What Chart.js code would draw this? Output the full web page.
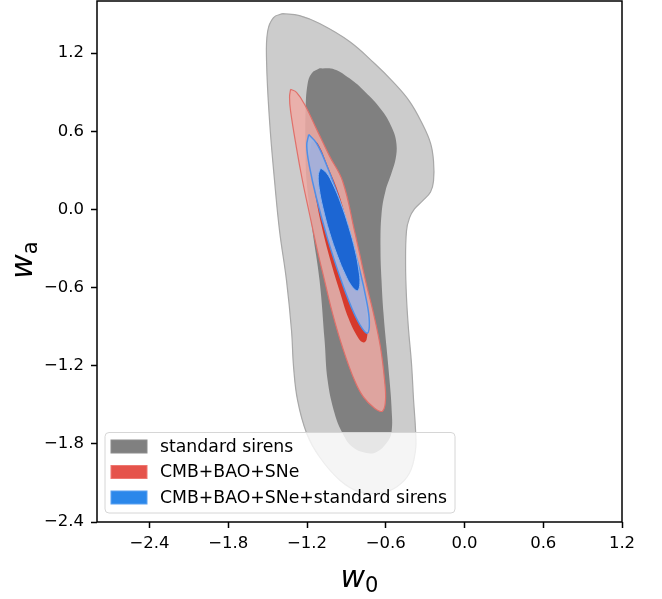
<!DOCTYPE html>
<html>
<head>
<meta charset="utf-8">
<script src="https://cdn.jsdelivr.net/npm/chart.js@4.4.1/dist/chart.umd.min.js"></script>
<style>
  html, body { margin: 0; padding: 0; background: #ffffff; }
  #wrap { width: 662px; height: 599px; position: relative; }
</style>
</head>
<body>
<div id="wrap"><canvas id="contourChart" width="662" height="599"></canvas></div>
<script>
// Axis ticks
const xTicks = [-2.4, -1.8, -1.2, -0.6, 0.0, 0.6, 1.2];
const yTicks = [-2.4, -1.8, -1.2, -0.6, 0.0, 0.6, 1.2];

// Legend labels
const legendLabels = ['standard sirens', 'CMB+BAO+SNe', 'CMB+BAO+SNe+standard sirens'];

// Standard sirens, 95% contour (w0, wa)
const sirens95W0 = [-1.386, -1.257, -1.104, -0.876, -0.685, -0.548, -0.419, -0.320, -0.259, -0.236, -0.236, -0.259, -0.320, -0.381, -0.419, -0.442, -0.449, -0.442, -0.426, -0.404, -0.388, -0.373, -0.373, -0.419, -0.518, -0.647, -0.800, -0.952, -1.104, -1.203, -1.272, -1.302, -1.318, -1.356, -1.409, -1.447, -1.485, -1.508, -1.500, -1.455, -1.386];
const sirens95Wa = [1.503, 1.488, 1.427, 1.289, 1.120, 0.983, 0.830, 0.654, 0.509, 0.371, 0.218, 0.134, 0.065, 0.004, -0.065, -0.165, -0.417, -0.677, -0.929, -1.182, -1.465, -1.695, -1.848, -2.024, -2.131, -2.177, -2.169, -2.077, -1.901, -1.718, -1.465, -1.213, -0.930, -0.547, -0.165, 0.218, 0.677, 1.136, 1.366, 1.473, 1.503];

// Standard sirens, 68% contour
const sirens68W0 = [-1.104, -0.990, -0.876, -0.762, -0.625, -0.548, -0.518, -0.525, -0.556, -0.602, -0.632, -0.640, -0.632, -0.617, -0.594, -0.571, -0.556, -0.556, -0.594, -0.670, -0.746, -0.853, -0.929, -0.990, -1.043, -1.066, -1.104, -1.158, -1.203, -1.211, -1.211, -1.196, -1.165, -1.104];
const sirens68Wa = [1.083, 1.075, 1.006, 0.907, 0.754, 0.616, 0.501, 0.386, 0.279, 0.142, -0.034, -0.295, -0.547, -0.799, -1.059, -1.312, -1.519, -1.710, -1.794, -1.863, -1.871, -1.825, -1.718, -1.565, -1.312, -1.006, -0.547, -0.165, 0.218, 0.447, 0.754, 0.960, 1.044, 1.083];

// CMB+BAO+SNe, 95% contour
const cmb95W0 = [-1.325, -1.280, -1.219, -1.120, -1.028, -0.929, -0.838, -0.754, -0.693, -0.640, -0.609, -0.602, -0.625, -0.685, -0.769, -0.838, -0.929, -1.005, -1.066, -1.120, -1.181, -1.234, -1.280, -1.325, -1.333, -1.325];
const cmb95Wa = [0.922, 0.899, 0.807, 0.601, 0.409, 0.218, -0.164, -0.547, -0.800, -1.060, -1.312, -1.465, -1.549, -1.526, -1.442, -1.312, -1.060, -0.800, -0.547, -0.318, -0.034, 0.218, 0.471, 0.754, 0.861, 0.922];

// CMB+BAO+SNe, 68% contour
const cmb68W0 = [-1.165, -1.120, -1.043, -0.952, -0.876, -0.800, -0.754, -0.739, -0.746, -0.769, -0.807, -0.883, -0.952, -1.021, -1.089, -1.142, -1.181, -1.165];
const cmb68Wa = [0.524, 0.509, 0.333, 0.103, -0.180, -0.471, -0.738, -0.891, -0.998, -1.021, -0.991, -0.838, -0.624, -0.394, -0.126, 0.142, 0.371, 0.524];

// CMB+BAO+SNe+standard sirens, 95% contour
const joint95W0 = [-1.187, -1.129, -1.060, -0.976, -0.880, -0.797, -0.746, -0.725, -0.740, -0.798, -0.867, -0.950, -1.047, -1.130, -1.181, -1.202, -1.187];
const joint95Wa = [0.575, 0.510, 0.364, 0.141, -0.162, -0.470, -0.704, -0.863, -0.950, -0.884, -0.739, -0.516, -0.213, 0.095, 0.329, 0.488, 0.575];

// CMB+BAO+SNe+standard sirens, 68% contour
const joint68W0 = [-1.097, -1.051, -1.002, -0.945, -0.883, -0.832, -0.805, -0.797, -0.815, -0.861, -0.909, -0.966, -1.029, -1.079, -1.107, -1.114, -1.097];
const joint68Wa = [0.318, 0.280, 0.192, 0.055, -0.131, -0.321, -0.467, -0.567, -0.624, -0.586, -0.498, -0.361, -0.175, 0.015, 0.161, 0.261, 0.318];

function toPoints(xs, ys) {
  return xs.map((x, i) => ({ x: x, y: ys[i] }));
}

// order: higher numbers are painted first (underneath)
function contour(xs, ys, fillColor, lineColor, lineWidth, order) {
  return {
    data: toPoints(xs, ys),
    showLine: true,
    fill: 'shape',
    backgroundColor: fillColor,
    borderColor: lineColor,
    borderWidth: lineWidth,
    pointRadius: 0,
    tension: 0.4,
    order: order,
  };
}

function fmt(v) {
  return v.toFixed(1).replace('-', '\u2212');
}

// Frame, axis titles and legend drawn on top of the contours
const decorPlugin = {
  id: 'decor',
  afterDatasetsDraw(chart) {
    const ctx = chart.ctx;
    const a = chart.chartArea;
    ctx.save();

    // legend box
    const lx = 105, ly = 432.5, lw = 350, lh = 80.5;
    ctx.beginPath();
    ctx.roundRect(lx, ly, lw, lh, 4);
    ctx.fillStyle = 'rgba(255,255,255,0.8)';
    ctx.fill();
    ctx.strokeStyle = '#d6d6d6';
    ctx.lineWidth = 1;
    ctx.stroke();
    const patchFill = ['#808080', '#e5534b', '#2b87ea'];
    const patchEdge = ['#8c8c8c', '#ee7770', '#5aa0f0'];
    const rows = [446.5, 472, 497.5];
    ctx.font = '17.3px "DejaVu Sans"';
    ctx.textBaseline = 'middle';
    ctx.textAlign = 'left';
    rows.forEach((ry, i) => {
      ctx.fillStyle = patchFill[i];
      ctx.fillRect(111, ry - 6.5, 36, 13);
      ctx.strokeStyle = patchEdge[i];
      ctx.strokeRect(111, ry - 6.5, 36, 13);
      ctx.fillStyle = '#000000';
      ctx.fillText(legendLabels[i], 160, ry + 1);
    });

    // frame
    ctx.strokeStyle = '#000000';
    ctx.lineWidth = 1.5;
    ctx.strokeRect(a.left, a.top, a.right - a.left, a.bottom - a.top);

    // x title: w_0
    const cx = (a.left + a.right) / 2;
    ctx.fillStyle = '#000000';
    ctx.textBaseline = 'alphabetic';
    ctx.font = 'italic 30px "DejaVu Sans"';
    const ww = ctx.measureText('w').width;
    ctx.font = '21px "DejaVu Sans"';
    const sw = ctx.measureText('0').width;
    const x0 = cx - (ww + sw) / 2;
    ctx.font = 'italic 30px "DejaVu Sans"';
    ctx.fillText('w', x0, 587);
    ctx.font = '21px "DejaVu Sans"';
    ctx.fillText('0', x0 + ww, 592);

    // y title: w_a
    ctx.translate(32, 260);
    ctx.rotate(-Math.PI / 2);
    ctx.font = 'italic 30px "DejaVu Sans"';
    const ww2 = ctx.measureText('w').width;
    ctx.font = '21px "DejaVu Sans"';
    const sw2 = ctx.measureText('a').width;
    const y0 = -(ww2 + sw2) / 2;
    ctx.font = 'italic 30px "DejaVu Sans"';
    ctx.fillText('w', y0, 0);
    ctx.font = '21px "DejaVu Sans"';
    ctx.fillText('a', y0 + ww2, 5);
    ctx.restore();
  },
};

const ctx = document.getElementById('contourChart').getContext('2d');
new Chart(ctx, {
  type: 'scatter',
  data: {
    datasets: [
      contour(sirens95W0, sirens95Wa, '#cccccc', '#a8a8a8', 1.2, 6),
      contour(sirens68W0, sirens68Wa, '#808080', '#808080', 0, 5),
      contour(cmb95W0, cmb95Wa, 'rgba(238,170,165,0.85)', '#e0706a', 1.2, 4),
      contour(cmb68W0, cmb68Wa, '#d63a2c', '#d63a2c', 0, 3),
      contour(joint95W0, joint95Wa, 'rgba(163,180,224,0.96)', '#4f8fe8', 1.5, 2),
      contour(joint68W0, joint68Wa, '#1c66d3', '#8ab4f0', 1, 1),
    ],
  },
  options: {
    responsive: false,
    animation: false,
    layout: { padding: { top: 1, right: 40, left: 0, bottom: 0 } },
    plugins: {
      legend: { display: false },
      tooltip: { enabled: false },
    },
    scales: {
      x: {
        type: 'linear',
        min: -2.8,
        max: 1.2,
        afterBuildTicks: (axis) => { axis.ticks = xTicks.map((v) => ({ value: v })); },
        afterFit: (axis) => { axis.height = 77; axis.paddingLeft = 0; axis.paddingRight = 0; },
        border: { display: false },
        grid: { drawOnChartArea: false, drawTicks: true, tickLength: 6, tickWidth: 1.5, tickColor: '#000000' },
        ticks: {
          color: '#000000',
          font: { family: 'DejaVu Sans', size: 16.5 },
          padding: 6,
          maxRotation: 0,
          autoSkip: false,
          callback: (v) => fmt(v),
        },
      },
      y: {
        type: 'linear',
        min: -2.4,
        max: 1.6,
        afterBuildTicks: (axis) => { axis.ticks = yTicks.map((v) => ({ value: v })); },
        afterFit: (axis) => { axis.width = 97; axis.paddingTop = 0; axis.paddingBottom = 0; },
        border: { display: false },
        grid: { drawOnChartArea: false, drawTicks: true, tickLength: 6, tickWidth: 1.5, tickColor: '#000000' },
        ticks: {
          color: '#000000',
          font: { family: 'DejaVu Sans', size: 16.5 },
          padding: 7,
          autoSkip: false,
          callback: (v) => fmt(v),
        },
      },
    },
  },
  plugins: [decorPlugin],
});
</script>
</body>
</html>
